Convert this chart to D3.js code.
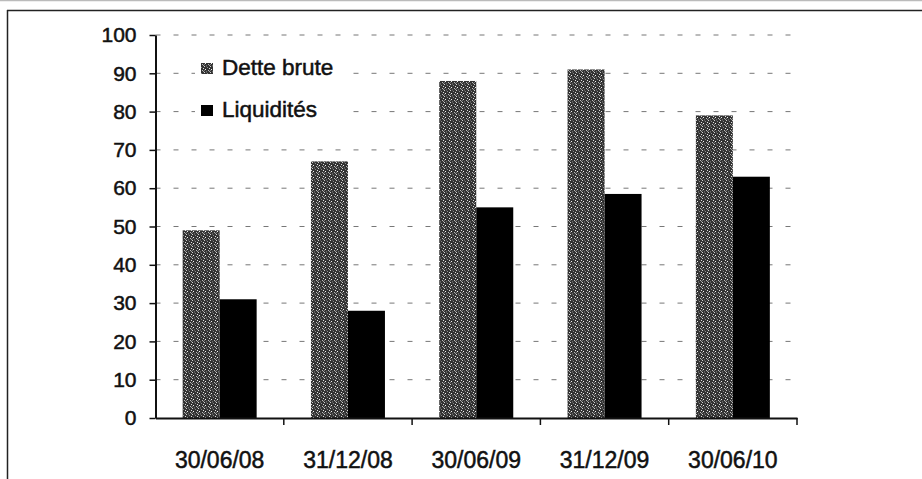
<!DOCTYPE html>
<html><head><meta charset="utf-8">
<script src="https://cdn.jsdelivr.net/npm/d3@7"></script>
<style>html,body{margin:0;padding:0;background:#fff;}svg{display:block;font-family:"Liberation Sans",Arial,sans-serif;}</style>
</head><body>
<script>
const categories = ["30/06/08","31/12/08","30/06/09","31/12/09","30/06/10"];
const detteBrute = [49, 67, 88, 91, 79];
const liquidites = [31, 28, 55, 58.5, 63];
const yTicks = [0,10,20,30,40,50,60,70,80,90,100];
const seriesNames = ["Dette brute","Liquidités"];

const W = 922, H = 479;
const svg = d3.select("body").append("svg").attr("width", W).attr("height", H);

// speckled pattern for "Dette brute"
const defs = svg.append("defs");
const pat = defs.append("pattern").attr("id","speck").attr("patternUnits","userSpaceOnUse")
  .attr("width",6).attr("height",6);
pat.append("rect").attr("width",6).attr("height",6).attr("fill","#333");
const cells = [[0,0,"#d0d0d0"],[3,1,"#8a8a8a"],[1,3,"#f2f2f2"],[4,4,"#bbbbbb"],[2,5,"#6a6a6a"],[5,2,"#e0e0e0"],[0,4,"#7a7a7a"],[2,0,"#555"],[5,5,"#a0a0a0"]];
cells.forEach(c=>pat.append("rect").attr("x",c[0]).attr("y",c[1]).attr("width",1).attr("height",1).attr("fill",c[2]));

// frame
svg.append("line").attr("x1",0).attr("x2",W).attr("y1",0.5).attr("y2",0.5).attr("stroke","#bbb").attr("stroke-width",1.5);
svg.append("line").attr("x1",7).attr("x2",W).attr("y1",10.5).attr("y2",10.5).attr("stroke","#222").attr("stroke-width",1.5);
svg.append("line").attr("x1",7.5).attr("x2",7.5).attr("y1",10).attr("y2",H).attr("stroke","#222").attr("stroke-width",1.5);

const x0 = 155.5, x1 = 797, yBottom = 418, yTop = 35;
const x = d3.scaleBand().domain(categories).range([x0, x1]).paddingInner(0).paddingOuter(0);
const y = d3.scaleLinear().domain([0,100]).range([yBottom, yTop]);
const sub = d3.scaleBand().domain(seriesNames).range([0, 74]);
const groupOffset = (x.bandwidth()-74)/2;

// gridlines
svg.append("g").selectAll("line").data(yTicks.filter(d=>d>0)).join("line")
  .attr("x1", x0).attr("x2", 800).attr("y1", d=>y(d)).attr("y2", d=>y(d))
  .attr("stroke","#777").attr("stroke-width",1).attr("stroke-dasharray","5,13");

// bars
const g = svg.append("g");
categories.forEach((c,i)=>{
  const bx = x(c)+groupOffset;
  g.append("rect").attr("x", bx+sub("Dette brute")).attr("width", sub.bandwidth())
    .attr("y", y(detteBrute[i])).attr("height", yBottom - y(detteBrute[i])).attr("fill","url(#speck)");
  g.append("rect").attr("x", bx+sub("Liquidités")).attr("width", sub.bandwidth())
    .attr("y", y(liquidites[i])).attr("height", yBottom - y(liquidites[i])).attr("fill","#000");
});

const txt = sel => sel.attr("fill","#111").attr("stroke","#111").attr("stroke-width",0.5)
  .attr("font-family","Liberation Sans, Arial, sans-serif");

// y axis
const yAxis = d3.axisLeft(y).tickValues(yTicks).tickSize(6).tickPadding(13).tickSizeOuter(0);
const ya = svg.append("g").attr("transform",`translate(${x0},0)`).call(yAxis);
ya.select(".domain").attr("stroke","#111").attr("stroke-width",2);
ya.selectAll(".tick line").attr("stroke","#111").attr("stroke-width",1.5);
ya.selectAll(".tick text").attr("font-size",21).call(txt);

// x axis
const xAxis = d3.axisBottom(x).tickSize(0).tickPadding(34).tickSizeOuter(0);
const xa = svg.append("g").attr("transform",`translate(0,${yBottom})`).call(xAxis);
xa.select(".domain").attr("stroke","#111").attr("stroke-width",2);
xa.selectAll(".tick text").attr("font-size",23).call(txt);
// boundary ticks
const bounds = categories.map(c=>x(c)+x.bandwidth());
svg.append("g").selectAll("line").data(bounds).join("line")
  .attr("x1",d=>d).attr("x2",d=>d).attr("y1",yBottom).attr("y2",yBottom+7)
  .attr("stroke","#111").attr("stroke-width",1.5);

// legend
const leg = svg.append("g");
leg.append("rect").attr("x",195).attr("y",52).attr("width",146).attr("height",76).attr("fill","#fff");
const legY = [68, 110];
seriesNames.forEach((n,i)=>{
  leg.append("rect").attr("x",201).attr("y",legY[i]-5).attr("width",12).attr("height",11)
    .attr("fill", i===0 ? "url(#speck)" : "#000");
  leg.append("text").attr("x",222).attr("y",legY[i]+7).attr("font-size",22.5).call(txt).text(n);
});
</script>
</body></html>
